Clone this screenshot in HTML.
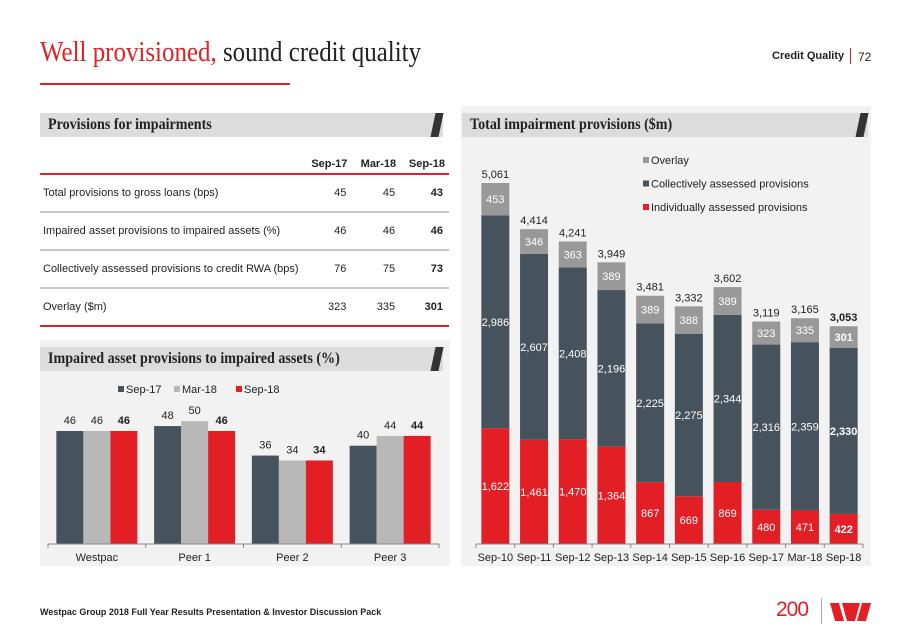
<!DOCTYPE html>
<html><head><meta charset="utf-8">
<style>
body{margin:0;width:911px;height:635px;background:#fff;position:relative;overflow:hidden;font-family:"Liberation Sans",sans-serif;}
.abs{position:absolute;}
.hbar{position:absolute;height:24px;background:#dcdcdc;box-sizing:border-box;}
.hbar span{position:absolute;left:8px;top:0;font-family:"Liberation Serif",serif;font-weight:bold;font-size:16px;line-height:24px;color:#222;transform:scaleX(0.88);transform-origin:left center;white-space:nowrap;}
.slash{position:absolute;right:2px;top:0;width:8px;height:24px;background:#333;transform:skewX(-12deg);}
table{border-collapse:collapse;}
td{white-space:nowrap;}
</style></head><body>
<div class="abs" style="left:40px;top:36px;font-family:'Liberation Serif',serif;font-size:29px;color:#222;transform:scaleX(0.86);transform-origin:left top;white-space:nowrap"><span style="color:#e31f26">Well provisioned,</span> sound credit quality</div>
<div class="abs" style="left:40px;top:83px;width:250px;height:2px;background:#e31f26"></div>
<div class="abs" style="left:772px;top:50px;font-size:11px;font-weight:bold;color:#222">Credit Quality</div>
<div class="abs" style="left:850px;top:48px;width:1px;height:16px;background:#e31f26"></div>
<div class="abs" style="left:858px;top:50px;font-size:12px;color:#222">72</div>

<div class="abs" style="left:461px;top:106px;width:410px;height:460px;background:#f2f2f2"></div>
<div class="abs" style="left:40px;top:340px;width:410px;height:226px;background:#f2f2f2"></div>

<div class="hbar" style="left:40px;top:113px;width:403px"><span>Provisions for impairments</span><div class="slash"></div></div>
<div class="hbar" style="left:462px;top:113px;width:406px"><span>Total impairment provisions ($m)</span><div class="slash"></div></div>
<div class="hbar" style="left:40px;top:347px;width:403px"><span>Impaired asset provisions to impaired assets (%)</span><div class="slash"></div></div>

<table class="abs" style="left:40px;top:155px;width:409px;font-size:11px;color:#222">
<tr style="height:19px;font-weight:bold;border-bottom:2px solid #e31f26"><td></td><td style="text-align:right;width:50px">Sep-17</td><td style="text-align:right;width:50px">Mar-18</td><td style="text-align:right;width:50px;padding-right:4px">Sep-18</td></tr>
<tr style="height:38px;border-bottom:2px solid #c8c8c8"><td style="padding-left:3px">Total provisions to gross loans (bps)</td><td style="text-align:right;padding-right:2px">45</td><td style="text-align:right;padding-right:2px">45</td><td style="text-align:right;font-weight:bold;padding-right:6px">43</td></tr>
<tr style="height:38px;border-bottom:2px solid #c8c8c8"><td style="padding-left:3px">Impaired asset provisions to impaired assets (%)</td><td style="text-align:right;padding-right:2px">46</td><td style="text-align:right;padding-right:2px">46</td><td style="text-align:right;font-weight:bold;padding-right:6px">46</td></tr>
<tr style="height:38px;border-bottom:2px solid #c8c8c8"><td style="padding-left:3px">Collectively assessed provisions to credit RWA (bps)</td><td style="text-align:right;padding-right:2px">76</td><td style="text-align:right;padding-right:2px">75</td><td style="text-align:right;font-weight:bold;padding-right:6px">73</td></tr>
<tr style="height:38px;border-bottom:2px solid #e31f26"><td style="padding-left:3px">Overlay ($m)</td><td style="text-align:right;padding-right:2px">323</td><td style="text-align:right;padding-right:2px">335</td><td style="text-align:right;font-weight:bold;padding-right:6px">301</td></tr>
</table>

<svg class="abs" id="chart" style="left:0;top:0" width="911" height="635"></svg>

<div class="abs" style="left:40px;top:607px;font-size:9px;font-weight:bold;color:#222">Westpac Group 2018 Full Year Results Presentation &amp; Investor Discussion Pack</div>
<div class="abs" style="left:776px;top:598px;font-size:21px;color:#e31f26;letter-spacing:-1px">200</div>
<div class="abs" style="left:821px;top:598px;width:1px;height:26px;background:#aaa"></div>
<svg class="abs" style="left:830px;top:603px" width="42" height="18"><polygon points="0,0 9,0 14,18 5,18" fill="#e31f26"/><polygon points="12,0 30,0 25,18 17,18" fill="#e31f26"/><polygon points="32,0 41,0 36,18 27,18" fill="#e31f26"/></svg>

<script>
const cats = ["Sep-10","Sep-11","Sep-12","Sep-13","Sep-14","Sep-15","Sep-16","Sep-17","Mar-18","Sep-18"];
const individual = [1622,1461,1470,1364,867,669,869,480,471,422];
const collective = [2986,2607,2408,2196,2225,2275,2344,2316,2359,2330];
const overlay = [453,346,363,389,389,388,389,323,335,301];
const totals = [5061,4414,4241,3949,3481,3332,3602,3119,3165,3053];

const peers = ["Westpac","Peer 1","Peer 2","Peer 3"];
const periods = ["Sep-17","Mar-18","Sep-18"];
const sep17 = [46,48,36,40];
const mar18 = [46,50,34,44];
const sep18 = [46,46,34,44];

const NS="http://www.w3.org/2000/svg";
const svg=document.getElementById('chart');
function mk(tag,attrs,name,text){const e=document.createElementNS(NS,tag);for(const k in attrs)e.setAttribute(k,attrs[k]);


if(text!==undefined)e.textContent=text;svg.appendChild(e);return e;}
const fmt=v=>v.toLocaleString('en-US');
const RED="#e31f26",DARK="#46525c",GREY="#b8b8b8",OV="#999";

const base=544, ax0=476, ax1=863, step=(ax1-ax0)/cats.length, bw=28;
const y=v=>base-v*(361/5061);
cats.forEach((c,i)=>{
  const cx=ax0+step*(i+0.5), x=cx-bw/2;
  const segs=[[individual[i],RED,'individual'],[collective[i],DARK,'collective'],[overlay[i],OV,'overlay']];
  let acc=0;
  segs.forEach(([v,col,nm])=>{
    const y0=y(acc), y1=y(acc+v);
    mk('rect',{x:x,y:y1,width:bw,height:y0-y1,fill:col},'bar-'+nm+'-'+c);
    const bold=(i===cats.length-1);
    mk('text',{x:cx,y:(y0+y1)/2+4,'text-anchor':'middle','font-size':11,fill:'#fff','font-weight':bold?'bold':'normal'},'label-'+nm+'-'+c,fmt(v));
    acc+=v;
  });
  mk('text',{x:cx,y:y(totals[i])-5,'text-anchor':'middle','font-size':11,fill:'#222','font-weight':i===cats.length-1?'bold':'normal'},'total-'+c,fmt(totals[i]));
  mk('text',{x:cx,y:base+17,'text-anchor':'middle','font-size':11,fill:'#222'},'x-label-'+c,c);
  mk('line',{x1:ax0+step*i,x2:ax0+step*i,y1:base,y2:base+4,stroke:'#888'},'x-tick');
});
mk('line',{x1:ax0,x2:ax1,y1:base,y2:base,stroke:'#888'},'x-axis');
mk('line',{x1:ax1,x2:ax1,y1:base,y2:base+4,stroke:'#888'},'x-tick');
[["Overlay",OV],["Collectively assessed provisions",DARK],["Individually assessed provisions",RED]].forEach(([t,c],i)=>{
  mk('rect',{x:643,y:157+i*23.5,width:6,height:6,fill:c},'legend-swatch');
  mk('text',{x:651,y:164+i*23.5,'font-size':11,fill:'#222'},'legend-entry',t);
});

const lx0=48, lx1=439, gstep=(lx1-lx0)/peers.length, lbw=27;
const ly=v=>base-v*(113/46);
const series=[sep17,mar18,sep18], cols=[DARK,GREY,RED];
peers.forEach((p,g)=>{
  const gx=lx0+gstep*g+(gstep-3*lbw)/2;
  series.forEach((s,k)=>{
    const x=gx+k*lbw;
    mk('rect',{x:x,y:ly(s[g]),width:lbw,height:base-ly(s[g]),fill:cols[k]},'bar-'+periods[k]+'-'+p);
    mk('text',{x:x+lbw/2,y:ly(s[g])-7,'text-anchor':'middle','font-size':11,fill:'#222','font-weight':k===2?'bold':'normal'},'value-'+periods[k]+'-'+p,s[g]);
  });
  mk('text',{x:lx0+gstep*(g+0.5),y:base+17,'text-anchor':'middle','font-size':11,fill:'#222'},'x-label-'+p,p);
  mk('line',{x1:lx0+gstep*g,x2:lx0+gstep*g,y1:base,y2:base+4,stroke:'#888'},'x-tick');
});
mk('line',{x1:lx0,x2:lx1,y1:base,y2:base,stroke:'#888'},'x-axis-left');
mk('line',{x1:lx1,x2:lx1,y1:base,y2:base+4,stroke:'#888'},'x-tick');
periods.forEach((t,i)=>{
  const lx=[118,174,236][i];
  mk('rect',{x:lx,y:386,width:6,height:6,fill:cols[i]},'legend-swatch-'+t);
  mk('text',{x:lx+8,y:393,'font-size':11,fill:'#222'},'legend-entry-'+t,t);
});
</script>
</body></html>
